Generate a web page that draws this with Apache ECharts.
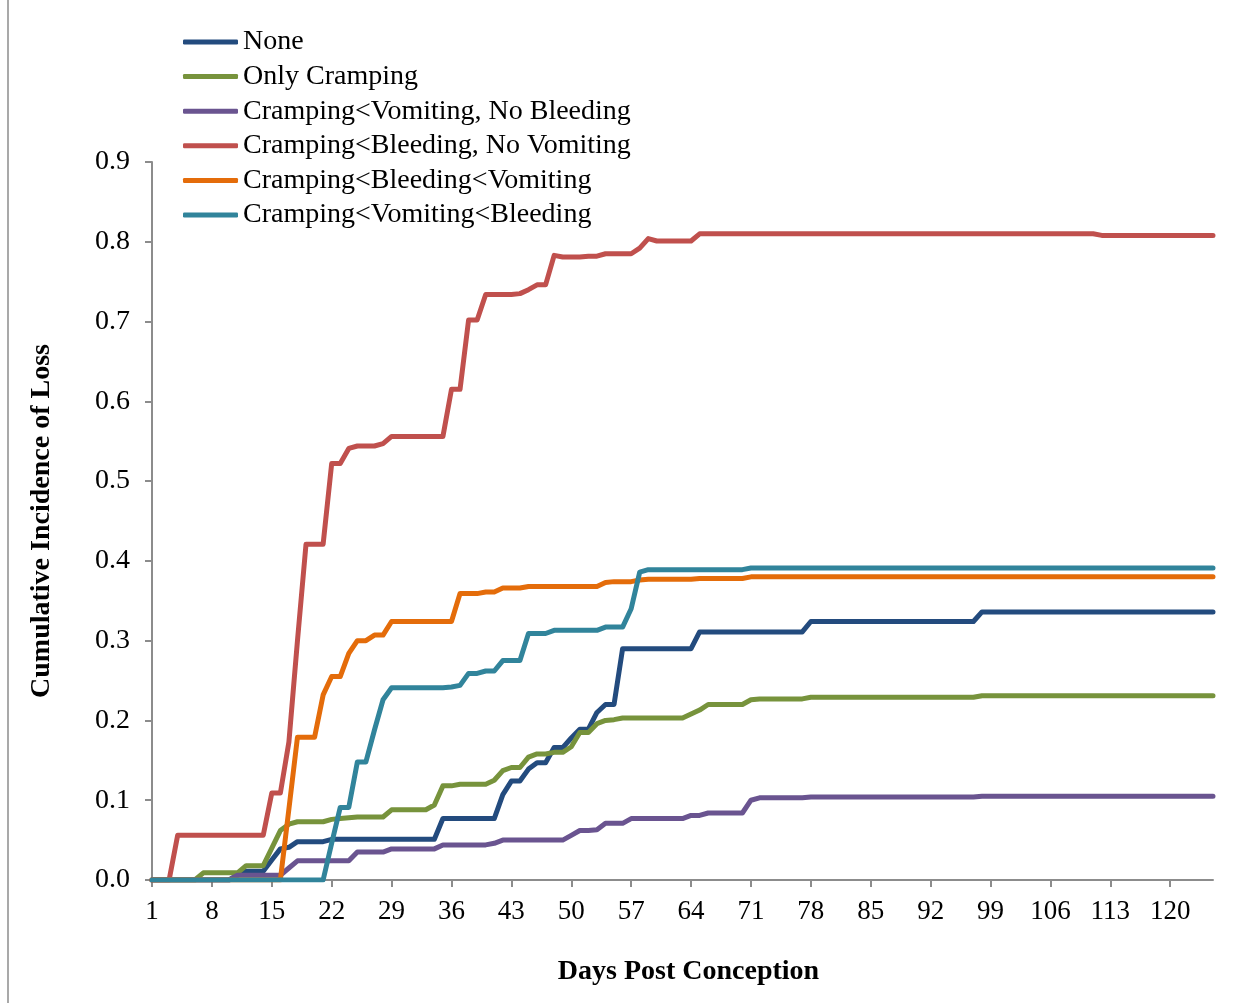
<!DOCTYPE html>
<html>
<head>
<meta charset="utf-8">
<script src="https://cdn.jsdelivr.net/npm/echarts@6/dist/echarts.min.js"></script>
<style>
  html, body { margin: 0; padding: 0; background: #fff; }
  #chart { width: 1253px; height: 1003px; }
</style>
</head>
<body>
<div id="chart"></div>
<script>
// days post conception, 1..125
var days = [];
for (var d = 1; d <= 125; d++) days.push(d);

var seriesNames = ['None', 'Only Cramping', 'Cramping<Vomiting, No Bleeding',
  'Cramping<Bleeding, No Vomiting', 'Cramping<Bleeding<Vomiting', 'Cramping<Vomiting<Bleeding'];

var none = [
  0, 0, 0, 0, 0, 0, 0, 0, 0, 0,
  0.006, 0.011, 0.011, 0.011, 0.025, 0.039, 0.041, 0.048, 0.048, 0.048,
  0.048, 0.051, 0.051, 0.051, 0.051, 0.051, 0.051, 0.051, 0.051, 0.051,
  0.051, 0.051, 0.051, 0.051, 0.077, 0.077, 0.077, 0.077, 0.077, 0.077,
  0.077, 0.107, 0.124, 0.124, 0.139, 0.147, 0.147, 0.166, 0.166, 0.178,
  0.189, 0.189, 0.210, 0.220, 0.220, 0.290, 0.290, 0.290, 0.290, 0.290,
  0.290, 0.290, 0.290, 0.290, 0.311, 0.311, 0.311, 0.311, 0.311, 0.311,
  0.311, 0.311, 0.311, 0.311, 0.311, 0.311, 0.311, 0.324, 0.324, 0.324,
  0.324, 0.324, 0.324, 0.324, 0.324, 0.324, 0.324, 0.324, 0.324, 0.324,
  0.324, 0.324, 0.324, 0.324, 0.324, 0.324, 0.324, 0.336, 0.336, 0.336,
  0.336, 0.336, 0.336, 0.336, 0.336, 0.336, 0.336, 0.336, 0.336, 0.336,
  0.336, 0.336, 0.336, 0.336, 0.336, 0.336, 0.336, 0.336, 0.336, 0.336,
  0.336, 0.336, 0.336, 0.336, 0.336
];

var onlyCramping = [
  0, 0, 0, 0, 0, 0, 0.009, 0.009, 0.009, 0.009,
  0.009, 0.018, 0.018, 0.018, 0.040, 0.062, 0.070, 0.073, 0.073, 0.073,
  0.073, 0.076, 0.077, 0.078, 0.079, 0.079, 0.079, 0.079, 0.088, 0.088,
  0.088, 0.088, 0.088, 0.094, 0.118, 0.118, 0.120, 0.120, 0.120, 0.120,
  0.125, 0.137, 0.141, 0.141, 0.154, 0.158, 0.158, 0.160, 0.160, 0.167,
  0.185, 0.185, 0.196, 0.200, 0.201, 0.203, 0.203, 0.203, 0.203, 0.203,
  0.203, 0.203, 0.203, 0.208, 0.213, 0.220, 0.220, 0.220, 0.220, 0.220,
  0.226, 0.227, 0.227, 0.227, 0.227, 0.227, 0.227, 0.229, 0.229, 0.229,
  0.229, 0.229, 0.229, 0.229, 0.229, 0.229, 0.229, 0.229, 0.229, 0.229,
  0.229, 0.229, 0.229, 0.229, 0.229, 0.229, 0.229, 0.231, 0.231, 0.231,
  0.231, 0.231, 0.231, 0.231, 0.231, 0.231, 0.231, 0.231, 0.231, 0.231,
  0.231, 0.231, 0.231, 0.231, 0.231, 0.231, 0.231, 0.231, 0.231, 0.231,
  0.231, 0.231, 0.231, 0.231, 0.231
];

var vomitNoBleed = [
  0, 0, 0, 0, 0, 0, 0, 0, 0, 0,
  0.006, 0.006, 0.006, 0.006, 0.006, 0.006, 0.015, 0.024, 0.024, 0.024,
  0.024, 0.024, 0.024, 0.024, 0.035, 0.035, 0.035, 0.035, 0.039, 0.039,
  0.039, 0.039, 0.039, 0.039, 0.044, 0.044, 0.044, 0.044, 0.044, 0.044,
  0.046, 0.050, 0.050, 0.050, 0.050, 0.050, 0.050, 0.050, 0.050, 0.056,
  0.062, 0.062, 0.063, 0.071, 0.071, 0.071, 0.077, 0.077, 0.077, 0.077,
  0.077, 0.077, 0.077, 0.081, 0.081, 0.084, 0.084, 0.084, 0.084, 0.084,
  0.100, 0.103, 0.103, 0.103, 0.103, 0.103, 0.103, 0.104, 0.104, 0.104,
  0.104, 0.104, 0.104, 0.104, 0.104, 0.104, 0.104, 0.104, 0.104, 0.104,
  0.104, 0.104, 0.104, 0.104, 0.104, 0.104, 0.104, 0.105, 0.105, 0.105,
  0.105, 0.105, 0.105, 0.105, 0.105, 0.105, 0.105, 0.105, 0.105, 0.105,
  0.105, 0.105, 0.105, 0.105, 0.105, 0.105, 0.105, 0.105, 0.105, 0.105,
  0.105, 0.105, 0.105, 0.105, 0.105
];

var bleedNoVomit = [
  0, 0, 0, 0.056, 0.056, 0.056, 0.056, 0.056, 0.056, 0.056,
  0.056, 0.056, 0.056, 0.056, 0.109, 0.109, 0.173, 0.300, 0.421, 0.421,
  0.421, 0.522, 0.522, 0.541, 0.544, 0.544, 0.544, 0.547, 0.556, 0.556,
  0.556, 0.556, 0.556, 0.556, 0.556, 0.615, 0.615, 0.702, 0.702, 0.734,
  0.734, 0.734, 0.734, 0.735, 0.740, 0.746, 0.746, 0.783, 0.781, 0.781,
  0.781, 0.782, 0.782, 0.785, 0.785, 0.785, 0.785, 0.792, 0.804, 0.801,
  0.801, 0.801, 0.801, 0.801, 0.810, 0.810, 0.810, 0.810, 0.810, 0.810,
  0.810, 0.810, 0.810, 0.810, 0.810, 0.810, 0.810, 0.810, 0.810, 0.810,
  0.810, 0.810, 0.810, 0.810, 0.810, 0.810, 0.810, 0.810, 0.810, 0.810,
  0.810, 0.810, 0.810, 0.810, 0.810, 0.810, 0.810, 0.810, 0.810, 0.810,
  0.810, 0.810, 0.810, 0.810, 0.810, 0.810, 0.810, 0.810, 0.810, 0.810,
  0.810, 0.808, 0.808, 0.808, 0.808, 0.808, 0.808, 0.808, 0.808, 0.808,
  0.808, 0.808, 0.808, 0.808, 0.808
];

var bleedThenVomit = [
  0, 0, 0, 0, 0, 0, 0, 0, 0, 0,
  0, 0, 0, 0, 0, 0, 0.089, 0.179, 0.179, 0.179,
  0.232, 0.255, 0.255, 0.284, 0.300, 0.300, 0.307, 0.307, 0.324, 0.324,
  0.324, 0.324, 0.324, 0.324, 0.324, 0.324, 0.359, 0.359, 0.359, 0.361,
  0.361, 0.366, 0.366, 0.366, 0.368, 0.368, 0.368, 0.368, 0.368, 0.368,
  0.368, 0.368, 0.368, 0.373, 0.374, 0.374, 0.374, 0.376, 0.377, 0.377,
  0.377, 0.377, 0.377, 0.377, 0.378, 0.378, 0.378, 0.378, 0.378, 0.378,
  0.380, 0.380, 0.380, 0.380, 0.380, 0.380, 0.380, 0.380, 0.380, 0.380,
  0.380, 0.380, 0.380, 0.380, 0.380, 0.380, 0.380, 0.380, 0.380, 0.380,
  0.380, 0.380, 0.380, 0.380, 0.380, 0.380, 0.380, 0.380, 0.380, 0.380,
  0.380, 0.380, 0.380, 0.380, 0.380, 0.380, 0.380, 0.380, 0.380, 0.380,
  0.380, 0.380, 0.380, 0.380, 0.380, 0.380, 0.380, 0.380, 0.380, 0.380,
  0.380, 0.380, 0.380, 0.380, 0.380
];

var vomitThenBleed = [
  0, 0, 0, 0, 0, 0, 0, 0, 0, 0,
  0, 0, 0, 0, 0, 0, 0, 0, 0, 0,
  0, 0.046, 0.091, 0.091, 0.148, 0.148, 0.188, 0.226, 0.241, 0.241,
  0.241, 0.241, 0.241, 0.241, 0.241, 0.242, 0.244, 0.259, 0.259, 0.262,
  0.262, 0.275, 0.275, 0.275, 0.309, 0.309, 0.309, 0.313, 0.313, 0.313,
  0.313, 0.313, 0.313, 0.317, 0.317, 0.317, 0.340, 0.386, 0.389, 0.389,
  0.389, 0.389, 0.389, 0.389, 0.389, 0.389, 0.389, 0.389, 0.389, 0.389,
  0.391, 0.391, 0.391, 0.391, 0.391, 0.391, 0.391, 0.391, 0.391, 0.391,
  0.391, 0.391, 0.391, 0.391, 0.391, 0.391, 0.391, 0.391, 0.391, 0.391,
  0.391, 0.391, 0.391, 0.391, 0.391, 0.391, 0.391, 0.391, 0.391, 0.391,
  0.391, 0.391, 0.391, 0.391, 0.391, 0.391, 0.391, 0.391, 0.391, 0.391,
  0.391, 0.391, 0.391, 0.391, 0.391, 0.391, 0.391, 0.391, 0.391, 0.391,
  0.391, 0.391, 0.391, 0.391, 0.391
];

var seriesData = [none, onlyCramping, vomitNoBleed, bleedNoVomit, bleedThenVomit, vomitThenBleed];
var colors = ['#234B7E', '#77933C', '#6A5490', '#C0504D', '#E46C0A', '#31849B'];

var serif = '"Liberation Serif", "Times New Roman", serif';
var axisGray = '#8C8C8C';

var chart = echarts.init(document.getElementById('chart'));

var series = [];
for (var i = 0; i < seriesNames.length; i++) {
    series.push({
        name: seriesNames[i],
        type: 'line',
        symbol: 'none',
        data: seriesData[i],
        itemStyle: { color: colors[i] },
        lineStyle: { color: colors[i], width: 5, cap: 'round', join: 'round' }
    });
}

var option = {
    animation: false,
    backgroundColor: '#fff',
    graphic: [{
        type: 'line',
        shape: { x1: 8, y1: 0, x2: 8, y2: 1003 },
        style: { stroke: axisGray, lineWidth: 1.5 }
    }],
    legend: {
        orient: 'vertical',
        left: 178,
        top: 23,
        icon: 'roundRect',
        itemWidth: 55,
        itemHeight: 5,
        itemGap: 6.6,
        textStyle: { fontFamily: serif, fontSize: 28, color: '#000', lineHeight: 28 },
        data: seriesNames
    },
    grid: { left: 152, right: 40, top: 162, bottom: 123 },
    xAxis: {
        type: 'category',
        boundaryGap: false,
        data: days,
        name: 'Days Post Conception',
        nameLocation: 'middle',
        nameGap: 78,
        nameTextStyle: { fontFamily: serif, fontSize: 28, fontWeight: 'bold', color: '#000', padding: [0, 0, 0, 12] },
        axisLine: { lineStyle: { color: axisGray, width: 2 } },
        axisTick: { interval: 6, length: 7, lineStyle: { color: axisGray, width: 2 } },
        axisLabel: { interval: 6, margin: 18, fontFamily: serif, fontSize: 27, color: '#000' },
        splitLine: { show: false }
    },
    yAxis: {
        type: 'value',
        min: 0,
        max: 0.9,
        interval: 0.1,
        name: 'Cumulative Incidence of Loss',
        nameLocation: 'middle',
        nameGap: 96,
        nameTextStyle: { fontFamily: serif, fontSize: 28, fontWeight: 'bold', color: '#000' },
        axisLine: { show: true, lineStyle: { color: axisGray, width: 2 } },
        axisTick: { show: true, length: 7, lineStyle: { color: axisGray, width: 2 } },
        axisLabel: {
            margin: 22, fontFamily: serif, fontSize: 28, color: '#000',
            formatter: function (v) { return v.toFixed(1); }
        },
        splitLine: { show: false }
    },
    series: series
};

chart.setOption(option);
</script>
</body>
</html>
